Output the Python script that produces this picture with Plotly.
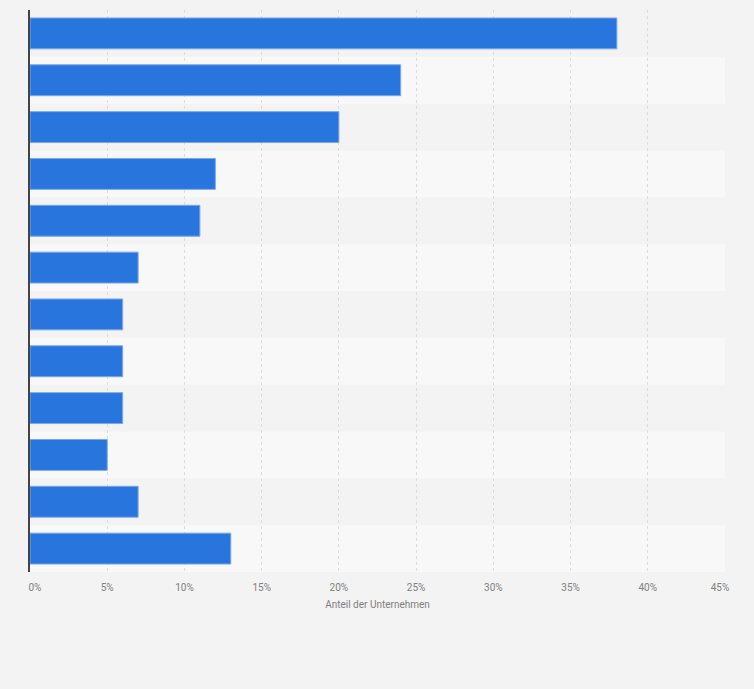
import plotly.graph_objects as go

categories = [f"Kategorie {i}" for i in range(1, 13)]
values = [38, 24, 20, 12, 11, 7, 6, 6, 6, 5, 7, 13]
tick_vals = [0, 5, 10, 15, 20, 25, 30, 35, 40, 45]
tick_text = ["\u00a0\u00a0\u00a0\u00a00%", "5%", "10%", "15%", "20%", "25%", "30%", "35%", "40%", "45%\u00a0\u00a0\u00a0\u00a0"]
x_title = "Anteil der Unternehmen"

fig = go.Figure()
fig.add_trace(go.Bar(
    y=categories, x=values, orientation="h",
    marker=dict(color="#2876dd", line=dict(color="#7aa8ea", width=1)),
    width=0.66, hoverinfo="x+y",
))

shapes = []
for i, c in enumerate(categories):
    if i % 2 == 1:
        shapes.append(dict(type="rect", xref="paper", yref="y",
                           x0=0, x1=1, y0=i - 0.5, y1=i + 0.5,
                           fillcolor="#f8f8f8", line=dict(width=0), layer="below"))

fig.update_layout(
    width=754, height=689,
    margin=dict(l=30, r=29, t=10, b=117),
    paper_bgcolor="#f3f3f3", plot_bgcolor="#f3f3f3",
    shapes=shapes, showlegend=False, bargap=0.34,
    font=dict(family="Roboto, Arial, sans-serif", color="#666666", size=10),
)
fig.update_xaxes(
    range=[0, 45], tickvals=tick_vals, ticktext=tick_text,
    showgrid=True, gridcolor="#dcdcdc", griddash="dot", gridwidth=1,
    zeroline=False, showline=False, ticks="", ticklen=0,
    ticklabelstandoff=8,
    tickfont=dict(size=10, color="#808080"),
    title=dict(text=x_title, font=dict(size=10, color="#808080"), standoff=8),
)
fig.update_yaxes(
    autorange="reversed", showticklabels=False, showgrid=False,
    showline=True, linecolor="#444444", linewidth=1.5, ticks="",
    range=[11.5, -0.5],
)
fig.write_html("out.html", config={"displayModeBar": False},
               post_script="document.body.style.margin='0';document.body.style.background='#f3f3f3';")
